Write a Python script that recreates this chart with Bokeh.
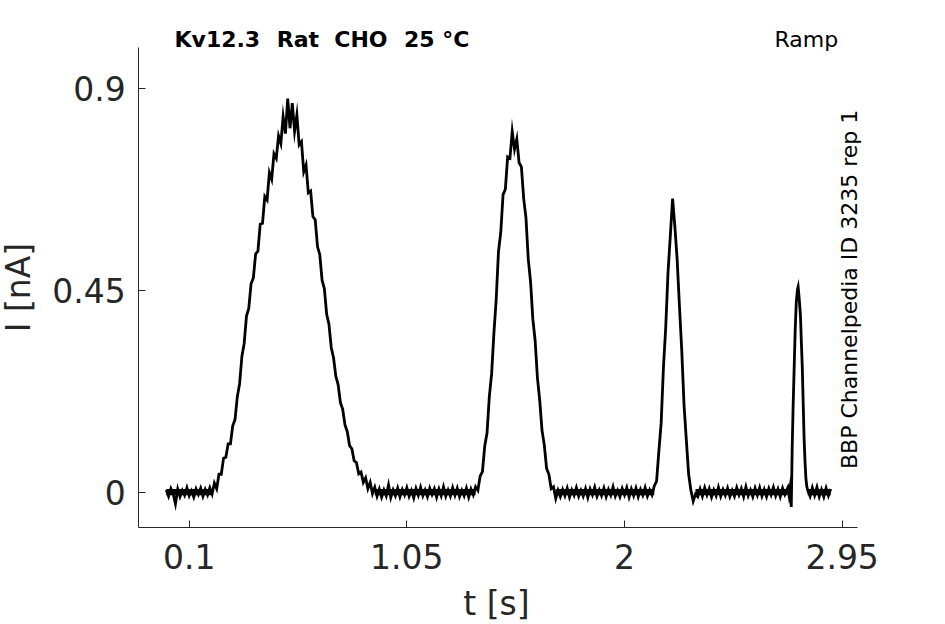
import numpy as np
from bokeh.plotting import figure
from bokeh.models import Range1d, FixedTicker, Label
from bokeh.embed import file_html
from bokeh.resources import INLINE

# ---------------- data ----------------
sample_step_s = 0.01          # main trace sampled every 10 ms, starting at t = 0 s
i_main_na = [
    0.005, -0.009, 0.008, -0.004, -0.026, 0.007, -0.010, 0.004, -0.007, 0.010,   # 0.00
    -0.008, 0.003, -0.011, 0.007, -0.005, 0.009, -0.009, 0.006, -0.006, 0.010,   # 0.10
    -0.004, 0.020, 0.008, 0.040, 0.040, 0.076, 0.078, 0.108, 0.108, 0.148,       # 0.20
    0.162, 0.213, 0.242, 0.303, 0.332, 0.393, 0.410, 0.465, 0.478, 0.532,        # 0.30
    0.538, 0.598, 0.600, 0.660, 0.652, 0.713, 0.698, 0.755, 0.745, 0.795,        # 0.40
    0.778, 0.838, 0.800, 0.878, 0.812, 0.868, 0.805, 0.842, 0.775, 0.782,        # 0.50
    0.715, 0.730, 0.668, 0.672, 0.615, 0.608, 0.548, 0.530, 0.473, 0.454,        # 0.60
    0.397, 0.375, 0.323, 0.300, 0.259, 0.240, 0.200, 0.185, 0.150, 0.135,        # 0.70
    0.104, 0.097, 0.070, 0.066, 0.041, 0.045, 0.022, 0.032, 0.008, 0.022,        # 0.80
    -0.003, 0.011, -0.009, 0.007, -0.011, 0.005, -0.008, 0.016, -0.012, 0.005,   # 0.90
    -0.008, 0.009, -0.010, 0.006, -0.006, 0.010, -0.009, 0.004, -0.013, 0.008,   # 1.00
    -0.007, 0.011, -0.008, 0.005, -0.010, 0.009, -0.005, 0.008, -0.011, 0.007,   # 1.10
    -0.008, 0.012, -0.009, 0.005, -0.009, 0.010, -0.007, 0.009, -0.010, 0.004,   # 1.20
    -0.008, 0.009, -0.011, 0.007, -0.006, 0.012, 0.004, 0.036, 0.046, 0.103,     # 1.30
    0.132, 0.213, 0.264, 0.355, 0.430, 0.537, 0.580, 0.664, 0.676, 0.748,        # 1.40
    0.745, 0.805, 0.765, 0.788, 0.735, 0.726, 0.655, 0.612, 0.520, 0.470,        # 1.50
    0.386, 0.338, 0.255, 0.205, 0.138, 0.105, 0.053, 0.040, 0.008, 0.012,        # 1.60
    -0.014, 0.004, -0.010, 0.006, -0.008, 0.009, -0.011, 0.005, -0.007, 0.010,   # 1.70
    -0.009, 0.004, -0.009, 0.008, -0.012, 0.007, -0.006, 0.011, -0.009, 0.005,   # 1.80
    -0.008, 0.009, -0.010, 0.006, -0.007, 0.012, -0.009, 0.004, -0.010, 0.008,   # 1.90
    -0.006, 0.010, -0.011, 0.007, -0.008, 0.009, -0.010, 0.006, -0.007, 0.010,   # 2.00
    -0.009, 0.005, -0.006, 0.014, 0.024, 0.091, 0.154, 0.278, 0.368, 0.490,      # 2.10
    0.572, 0.655, 0.592, 0.518, 0.414, 0.316, 0.194, 0.116, 0.040, 0.004,        # 2.20
    -0.020, -0.004, -0.010, 0.007, -0.009, 0.010, -0.006, 0.008, -0.011, 0.005,  # 2.30
    -0.008, 0.011, -0.009, 0.006, -0.007, 0.009, -0.010, 0.004, -0.009, 0.010,   # 2.40
    -0.006, 0.008, -0.010, 0.012, -0.008, 0.005, -0.010, 0.009, -0.007, 0.010,   # 2.50
    -0.009, 0.006, -0.010, 0.008, -0.006, 0.011, -0.008, 0.007, -0.010, 0.009,   # 2.60
    -0.005,                                                                      # 2.70
]
# narrow fourth peak, finer samples
t_peak4_s = [2.713, 2.718, 2.722, 2.725, 2.728, 2.732, 2.736, 2.740, 2.745, 2.750, 2.755,
             2.758, 2.762, 2.768, 2.772, 2.776, 2.780, 2.784, 2.788, 2.792, 2.796, 2.800]
i_peak4_na = [0.010, -0.006, 0.008, -0.012, -0.033, 0.100, 0.190, 0.265, 0.360, 0.425, 0.452,
              0.458, 0.436, 0.395, 0.335, 0.280, 0.200, 0.120, 0.068, 0.030, 0.012, 0.004]
# tail after the fourth peak, from 2.81 s
t_tail_start_s = 2.81
i_tail_na = [-0.009, 0.010, -0.007, 0.011, -0.010, 0.006, -0.010, 0.009, -0.008, 0.007]

# dense baseline noise band (recording noise between the peaks)
band_start_s = [0.00, 0.91, 1.70, 2.31, 2.80]
band_end_s = [0.20, 1.35, 2.13, 2.712, 2.90]
band_low_na = [-0.007, -0.007, -0.007, -0.007, -0.007]
band_high_na = [0.007, 0.007, 0.007, 0.007, 0.007]

x_ticks = [0.1, 1.05, 2.0, 2.95]
x_tick_labels = ["0.1", "1.05", "2", "2.95"]
y_ticks = [0.0, 0.45, 0.9]
y_tick_labels = ["0", "0.45", "0.9"]

title_words = ["Kv12.3", "Rat", "CHO", "25 °C"]
protocol_text = "Ramp"
source_text = "BBP Channelpedia ID 3235 rep 1"
x_label = "t [s]"
y_label = "I [nA]"

# ---------------- build ----------------
t_main = np.arange(len(i_main_na)) * sample_step_s
t_tail = t_tail_start_s + np.arange(len(i_tail_na)) * sample_step_s
t_all = np.concatenate([t_main, np.array(t_peak4_s), t_tail])
i_all = np.concatenate([np.array(i_main_na), np.array(i_peak4_na), np.array(i_tail_na)])

W, H = 940, 623
# the plot frame spans the whole canvas; axes sit at fixed locations inside it
X_PX0, X_PX_PER = 188.7, 229.1     # canvas x of t = 0.1 s, pixels per second
Y_PX0, Y_PX_PER = 491.7, 448.2     # canvas y of I = 0 nA, pixels per nA


def fx(px):
    return 0.1 + (px - X_PX0) / X_PX_PER


def fy(py):
    return (Y_PX0 - py) / Y_PX_PER


p = figure(width=W, height=H, output_backend="svg", toolbar_location=None,
           x_range=Range1d(fx(0), fx(W)), y_range=Range1d(fy(H), fy(0)),
           min_border_left=0, min_border_right=0, min_border_top=0, min_border_bottom=0)
p.title.visible = False
p.background_fill_color = "white"
p.border_fill_color = "white"
p.outline_line_color = None
p.xgrid.visible = False
p.ygrid.visible = False

p.quad(left=band_start_s, right=band_end_s, bottom=band_low_na, top=band_high_na,
       fill_color="black", line_color=None)
p.line(t_all, i_all, line_color="black", line_width=2.8, line_join="miter")

axis_col = "#262626"
for ax in (p.xaxis[0], p.yaxis[0]):
    ax.axis_line_color = axis_col
    ax.axis_line_width = 1
    ax.major_tick_line_color = axis_col
    ax.major_tick_in = 7
    ax.major_tick_out = 0
    ax.minor_tick_line_color = None
    ax.major_label_text_font = "DejaVu Sans"
    ax.major_label_text_font_size = "33px"
    ax.major_label_text_color = axis_col

p.xaxis.ticker = FixedTicker(ticks=x_ticks)
p.xaxis.major_label_overrides = {k: v for k, v in zip(x_ticks, x_tick_labels)}
p.yaxis.ticker = FixedTicker(ticks=y_ticks)
p.yaxis.major_label_overrides = {k: v for k, v in zip(y_ticks, y_tick_labels)}
p.xaxis.bounds = (fx(138.3), fx(856.7))
p.yaxis.bounds = (fy(526.7), fy(46.7))
p.xaxis.fixed_location = fy(526.7)
p.yaxis.fixed_location = fx(138.3)
p.xaxis.major_label_standoff = 17
p.yaxis.major_label_standoff = 13

# title words (bold), protocol name, source text, axis labels
for word, left_px in zip(title_words, [174.0, 276.3, 333.8, 403.5]):
    p.add_layout(Label(x=fx(left_px), y=fy(39.0), text=word, text_font="DejaVu Sans",
                       text_font_style="bold", text_font_size="22px", text_color="black",
                       text_align="left", text_baseline="alphabetic"))
p.add_layout(Label(x=fx(774.0), y=fy(39.0), text=protocol_text, text_font="DejaVu Sans",
                   text_font_size="22px", text_color="black",
                   text_align="left", text_baseline="alphabetic"))
p.add_layout(Label(x=fx(849.0), y=fy(468.5), text=source_text, text_font="DejaVu Sans",
                   text_font_size="22px", text_color="black", angle=np.pi / 2,
                   text_align="left", text_baseline="alphabetic"))
p.add_layout(Label(x=fx(496.0), y=fy(602.5), text=x_label, text_font="DejaVu Sans",
                   text_font_size="33px", text_color=axis_col,
                   text_align="center", text_baseline="alphabetic"))
p.add_layout(Label(x=fx(18.0), y=fy(287.0), text=y_label, text_font="DejaVu Sans",
                   text_font_size="33px", text_color=axis_col, angle=np.pi / 2,
                   text_align="center", text_baseline="alphabetic"))

open("out.html", "w").write(file_html(p, INLINE))
